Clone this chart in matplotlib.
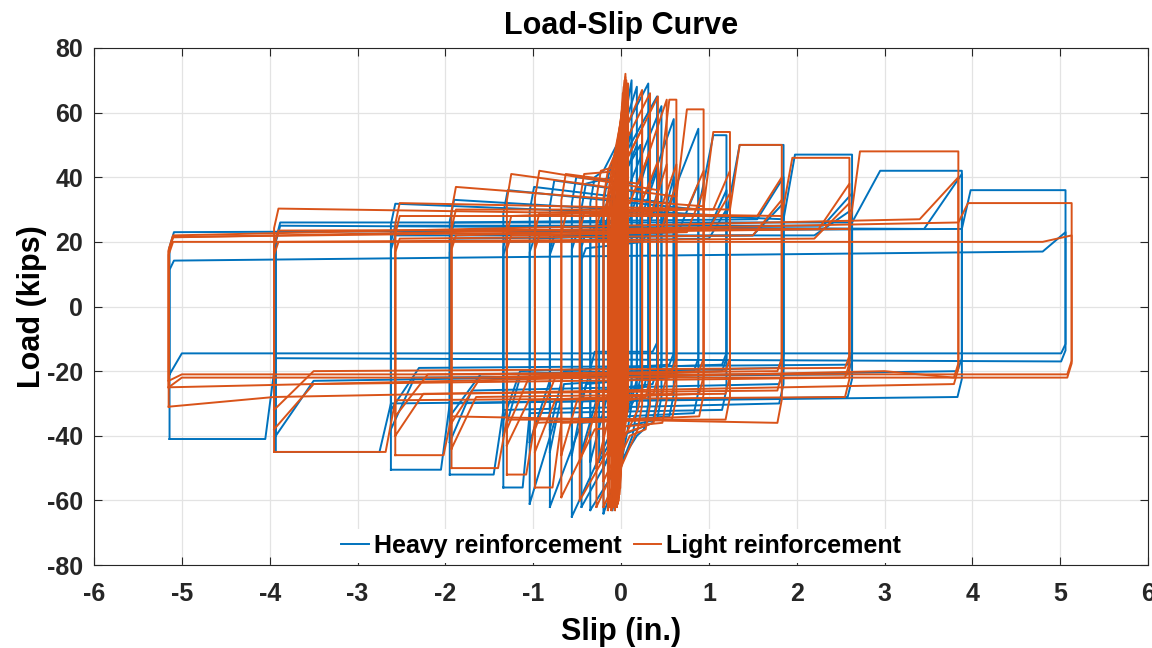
import matplotlib
matplotlib.use("Agg")
import matplotlib.pyplot as plt
import numpy as np

plt.rcParams['font.family'] = ['Liberation Sans', 'DejaVu Sans']
plt.rcParams['font.weight'] = 'bold'
plt.rcParams['axes.unicode_minus'] = False

# one entry per loading cycle
# xn/xp: slip amplitudes; us: load after reloading at xn; ukx/uk: end of the
# upper plateau; upx/ue: where the upper branch reaches its load at xp
# ls, lkx/lk, lpx/le: same for the lower branch (xp -> xn)
heavy_xn = [-0.05, -0.05, -0.10, -0.10, -0.20, -0.20, -0.35, -0.35, -0.45, -0.45, -0.56, -0.56, -0.81,
            -0.81, -0.81, -1.04, -1.04, -1.34, -1.34, -1.34, -1.95, -1.95, -2.62, -2.62, -3.93, -3.93,
            -5.14, -5.14, -1.95, -2.62, -0.25, -0.45]
heavy_xp = [0.05, 0.05, 0.12, 0.12, 0.18, 0.18, 0.31, 0.31, 0.41, 0.41, 0.46, 0.46, 0.60,
            0.60, 0.60, 0.88, 0.88, 1.20, 1.20, 1.20, 1.85, 1.85, 2.63, 2.63, 3.88, 3.88, 5.06, 5.06,
            1.85, 2.63, 0.22, 0.41]
heavy_us = [45, 36, 42, 32, 40, 28, 40, 25, 38, 23, 40, 22, 39, 22, 20, 37, 21, 36, 23, 20,
            33, 26, 31.8, 25, 26, 25, 23, 14.2, 21, 22, 30, 18]
heavy_ukx = [-0.05, -0.05, -0.10, -0.10, -0.20, -0.20, -0.20, 0.10, -0.10, 0.20, 0.10, 0.30, 0.30,
             0.45, 0.45, 0.55, 0.65, 0.88, 1.00, 1.00, 1.20, 1.55, 1.85, 2.30, 2.63, 3.45, 3.88, 4.80,
             1.50, 2.20, -0.25, 0.25]
heavy_uk = [45, 36, 42, 32, 40, 28, 42, 27, 40, 25, 38, 24, 35, 24, 22, 32, 23, 30, 24, 21,
            28, 27, 27, 25, 26, 24, 24, 17, 22, 22, 30, 20]
heavy_upx = [0.05, 0.05, 0.12, 0.12, 0.18, 0.18, 0.31, 0.31, 0.41, 0.41, 0.46, 0.46, 0.60,
             0.60, 0.60, 0.88, 0.88, 1.05, 1.20, 1.20, 1.35, 1.85, 1.98, 2.63, 2.95, 3.88, 3.98, 5.06,
             1.85, 2.63, 0.22, 0.41]
heavy_ue = [66, 58, 70, 55, 68, 50, 69, 46, 65, 42, 62, 40, 58, 40, 35, 55, 38, 53, 36, 30,
            50, 40, 47, 35, 42, 41, 36, 23, 32, 30, 50, 32]
heavy_ls = [-40, -32, -38, -30, -40, -28, -38, -25, -36, -24, -35, -22, -34, -22, -18, -33, -20,
            -32, -20, -18, -30, -24, -28, -21, -28, -20, -17, -14.5, -19, -18, -28, -14]
heavy_lkx = [0.05, 0.05, 0.12, 0.12, 0.18, 0.18, 0.18, -0.15, 0.00, -0.25, -0.10, -0.40, -0.45,
             -0.65, -0.65, -0.75, -0.80, -1.04, -1.15, -1.15, -1.34, -1.70, -1.95, -2.35, -2.62, -3.50,
             -3.93, -5.00, -1.60, -2.30, 0.22, -0.30]
heavy_lk = [-40, -32, -38, -30, -40, -28, -40, -27, -40, -26, -38, -24, -36, -24, -20, -35, -22,
            -33, -22, -20, -32, -26, -30, -22, -30, -23, -16, -14.5, -21, -19, -28, -14]
heavy_lpx = [-0.05, -0.05, -0.10, -0.10, -0.20, -0.20, -0.35, -0.35, -0.45, -0.45, -0.56, -0.56, -0.81,
             -0.81, -0.81, -1.04, -1.04, -1.12, -1.34, -1.34, -1.45, -1.95, -2.05, -2.62, -2.75, -3.93,
             -4.05, -5.14, -1.95, -2.62, -0.25, -0.45]
heavy_le = [-60, -54, -63, -52, -64, -50, -63, -48, -62, -45, -65, -46, -62, -45, -38, -61, -42,
            -56, -40, -35, -52, -42, -50.5, -38, -45, -40, -41, -21, -34, -32, -48, -30]

light_xn = [-0.02, -0.03, -0.04, -0.05, -0.07, -0.09, -0.11, -0.13, -0.15, -0.06, -0.10, -0.14,
            -0.20, -0.20, -0.28, -0.28, -0.47, -0.47, -0.68, -0.68, -0.98, -0.98, -1.30, -1.30,
            -1.93, -1.93, -2.57, -2.57, -3.95, -3.95, -5.15, -5.15, -5.15, -5.15,
            -0.01, -0.08, -0.12, -0.98, -1.30, -1.93, -2.57, -3.95]
light_xp = [0.02, 0.03, 0.04, 0.05, 0.05, 0.05, 0.06, 0.07, 0.08, 0.04, 0.05, 0.07,
            0.24, 0.24, 0.33, 0.33, 0.42, 0.42, 0.52, 0.52, 0.63, 0.63, 0.94, 0.94,
            1.24, 1.24, 1.83, 1.83, 2.60, 2.60, 3.84, 3.84, 5.13, 5.13,
            0.01, 0.06, 0.04, 0.63, 0.94, 1.24, 1.83, 2.60]
light_us = [50, 48, 47, 46, 45, 44, 44, 43, 43, 38, 36, 35,
            42, 34, 42, 30, 41, 29, 41, 28, 42, 29, 41, 28, 37, 30, 32, 28, 30.3, 23.5,
            21.5, 22, 21.4, 20,
            45, 30, 28, 22, 22, 22, 21, 20]
light_ukx = [-0.02, -0.03, -0.04, -0.05, -0.07, -0.09, -0.11, -0.13, -0.15, -0.06, -0.10, -0.14,
             -0.20, -0.20, -0.10, 0.10, 0.00, 0.20, 0.20, 0.35, 0.42, 0.45, 0.63, 0.75,
             0.94, 1.05, 1.24, 1.55, 1.83, 2.25, 2.60, 3.40, 3.84, 4.80,
             -0.01, -0.08, -0.12, 0.45, 0.75, 1.00, 1.50, 2.20]
light_uk = [50, 48, 47, 46, 45, 44, 44, 43, 43, 38, 36, 35,
            42, 34, 43, 32, 42, 30, 38, 29, 36, 30, 34, 30, 31, 30, 30, 28, 28, 24,
            24, 27, 26, 20,
            45, 30, 28, 23, 23, 24, 22, 21]
light_upx = [0.02, 0.03, 0.04, 0.05, 0.05, 0.05, 0.06, 0.07, 0.08, 0.04, 0.05, 0.07,
             0.24, 0.24, 0.33, 0.33, 0.42, 0.42, 0.52, 0.52, 0.55, 0.63, 0.75, 0.94,
             1.05, 1.24, 1.35, 1.83, 1.95, 2.60, 2.72, 3.84, 3.95, 5.13,
             0.01, 0.06, 0.04, 0.63, 0.94, 1.24, 1.83, 2.60]
light_ue = [66, 68, 70, 72, 71, 70, 70, 69, 69, 60, 58, 56,
            67, 55, 66, 48, 65, 45, 64, 44, 64, 44, 61, 42, 54, 42, 50, 40, 46, 38,
            48, 40, 32, 22,
            62, 50, 48, 38, 36, 35, 33, 32]
light_ls = [-46, -44, -43, -42, -41, -40, -40, -40, -39, -36, -34, -33,
            -38, -32, -38, -28, -36, -27, -36, -27, -35, -27, -34, -27, -35, -27, -36, -26, -28, -22,
            -24, -22, -22, -21,
            -42, -28, -26, -20, -20, -20, -20, -19]
light_lkx = [0.02, 0.03, 0.04, 0.05, 0.05, 0.05, 0.06, 0.07, 0.08, 0.04, 0.05, 0.07,
             0.24, 0.24, 0.10, -0.10, -0.05, -0.25, -0.30, -0.50, -0.68, -0.75, -0.98, -1.05,
             -1.30, -1.65, -1.93, -2.25, -2.57, -3.50, -3.95, 3.00, -5.00, -5.00,
             0.01, 0.06, 0.04, -0.75, -1.05, -1.60, -2.20, -3.50]
light_lk = [-46, -44, -43, -42, -41, -40, -40, -40, -39, -36, -34, -33,
            -38, -32, -40, -30, -40, -29, -38, -29, -36, -29, -36, -29, -35, -28, -34, -27, -29, -24,
            -28, -20, -22, -21,
            -42, -28, -26, -22, -22, -22, -21, -20]
light_lpx = [-0.02, -0.03, -0.04, -0.05, -0.07, -0.09, -0.11, -0.13, -0.15, -0.06, -0.10, -0.14,
             -0.20, -0.20, -0.28, -0.28, -0.47, -0.47, -0.68, -0.68, -0.78, -0.98, -1.08, -1.30,
             -1.40, -1.93, -2.02, -2.57, -2.68, -3.95, -5.15, -5.15, -5.15, -5.15,
             -0.01, -0.08, -0.12, -0.98, -1.30, -1.93, -2.57, -3.95]
light_le = [-58, -60, -61, -62, -63, -62, -63, -62, -63, -56, -55, -54,
            -62, -54, -62, -50, -60, -48, -59, -46, -56, -45, -52, -43, -50, -44, -46, -40, -45, -38,
            -31, -25, -25, -23,
            -56, -48, -46, -38, -38, -36, -34, -32]

series = {
    'Heavy reinforcement': (heavy_xn, heavy_xp, heavy_us, heavy_ukx, heavy_uk, heavy_upx, heavy_ue,
                            heavy_ls, heavy_lkx, heavy_lk, heavy_lpx, heavy_le),
    'Light reinforcement': (light_xn, light_xp, light_us, light_ukx, light_uk, light_upx, light_ue,
                            light_ls, light_lkx, light_lk, light_lpx, light_le),
}
colors = {'Heavy reinforcement': '#0072BD', 'Light reinforcement': '#D95319'}


def loop(xn, xp, us, ukx, uk, upx, ue, ls, lkx, lk, lpx, le):
    # rounded reversal corners, plateau, hardening, flat to the amplitude
    c = min(0.05, 0.2 * (xp - xn))
    ukx = min(max(ukx, xn + c), xp)
    upx = min(max(upx, ukx), xp)
    lkx = max(min(lkx, xp - c), xn)
    lpx = max(min(lpx, lkx), xn)
    xs = [xn, xn, xn + c, ukx, upx, xp, xp, xp - c, lkx, lpx, xn]
    ys = [le, 0.8 * us, us, uk, ue, ue, 0.8 * ls, ls, lk, le, le]
    return xs, ys


fig = plt.figure(figsize=(11.52, 6.48), dpi=100)
ax = fig.add_axes([0.0816, 0.128, 0.915, 0.798])

handles = []
for name, cols in series.items():
    for row in zip(*cols):
        xs, ys = loop(*row)
        ln, = ax.plot(xs, ys, color=colors[name], lw=1.4, solid_joinstyle='round')
    handles.append(ln)

ax.set_xlim(-6, 6)
ax.set_ylim(-80, 80)
ax.set_xticks(np.arange(-6, 7, 1))
ax.set_yticks(np.arange(-80, 81, 20))
ax.grid(True, color='#e3e3e3', lw=0.9)
ax.set_axisbelow(True)
ax.tick_params(direction='in', top=True, right=True, length=6, width=0.8,
               labelsize=18, colors='#262626')
ax.tick_params(axis='x', pad=12)
ax.tick_params(axis='y', pad=8)
for lab in ax.get_xticklabels() + ax.get_yticklabels():
    lab.set_fontweight('bold')
for sp in ax.spines.values():
    sp.set_color('#262626')
    sp.set_linewidth(0.8)

ax.set_xlabel('Slip (in.)', fontsize=22, fontweight='bold', labelpad=8)
ax.set_ylabel('Load (kips)', fontsize=22, fontweight='bold', labelpad=0)
ax.set_title('Load-Slip Curve', fontsize=22, fontweight='bold', pad=10)

leg = ax.legend(handles, list(series.keys()), loc='lower center', ncol=2, fontsize=18,
                frameon=True, edgecolor='none', facecolor='white', framealpha=1,
                handlelength=1.1, handletextpad=0.2, columnspacing=0.5,
                borderaxespad=0.1, borderpad=0.2)
for t in leg.get_texts():
    t.set_fontweight('bold')

fig.savefig('out.png', dpi=100)
